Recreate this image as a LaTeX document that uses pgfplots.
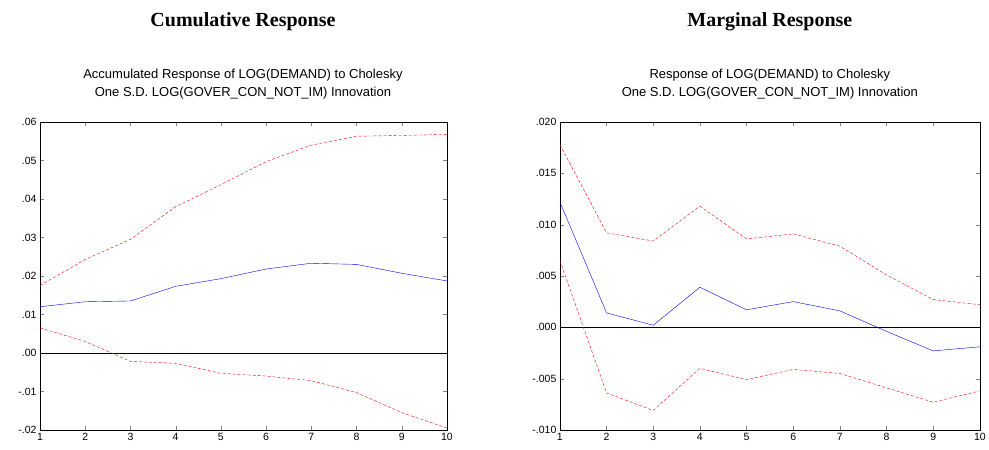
\documentclass[border=0pt]{standalone}
\usepackage{pgfplots}
\pgfplotsset{compat=1.18}
\usepackage{fontspec}
\setmainfont{Liberation Sans}
\newfontfamily\serifb{Liberation Serif}
\begin{document}
\begin{tikzpicture}
\path (0,-20pt) rectangle (989pt,430pt);
\pgfplotsset{every axis/.style={scale only axis, height=308pt, xmin=1, xmax=10, xtick={1,...,10},
 tick label style={font=\fontsize{10.5}{12}\selectfont}, /pgf/number format/assume math mode=true,
 yticklabel style={/pgf/number format/.cd, fixed, fixed zerofill, skip 0.},
 tick align=inside}}
\begin{axis}[name=a, width=407pt, at={(40pt,0)}, ymin=-0.02, ymax=0.06, ytick={-0.02,-0.01,...,0.06},
 yticklabel style={/pgf/number format/precision=2},
 scaled y ticks=false]
\addplot[black, thin] coordinates {(1,0) (10,0)};
\addplot[blue] coordinates {(1,.012)(2,.0133)(3,.0135)(4,.0173)(5,.0193)(6,.0218)(7,.0233)(8,.023)(9,.0207)(10,.0187)};
\addplot[red, densely dashed] coordinates {(1,.0175)(2,.0243)(3,.0295)(4,.038)(5,.0437)(6,.0497)(7,.054)(8,.0563)(9,.0565)(10,.0568)};
\addplot[red, densely dashed] coordinates {(1,.0065)(2,.003)(3,-.0022)(4,-.0027)(5,-.0053)(6,-.006)(7,-.0072)(8,-.0103)(9,-.0155)(10,-.0195)};
\end{axis}
\node[font=\serifb\bfseries\fontsize{20}{22}\selectfont] at (243pt,408pt) {Cumulative Response};
\node[font=\fontsize{13}{18}\selectfont, align=center] at (243pt,346pt) {Accumulated Response of LOG(DEMAND) to Cholesky\\One S.D. LOG(GOVER\_CON\_NOT\_IM) Innovation};
\begin{axis}[width=420pt, at={(560pt,0)}, ymin=-0.01, ymax=0.02, ytick={-0.01,-0.005,...,0.02},
 yticklabel style={/pgf/number format/precision=3},
 scaled y ticks=false]
\addplot[black, thin] coordinates {(1,0) (10,0)};
\addplot[blue] coordinates {(1,.0122)(2,.0014)(3,.0002)(4,.0039)(5,.0017)(6,.0025)(7,.0016)(8,-.0004)(9,-.0023)(10,-.0019)};
\addplot[red, densely dashed] coordinates {(1,.0178)(2,.0092)(3,.0084)(4,.0118)(5,.0086)(6,.0091)(7,.0079)(8,.0051)(9,.0027)(10,.0022)};
\addplot[red, densely dashed] coordinates {(1,.0065)(2,-.0064)(3,-.0081)(4,-.0040)(5,-.0051)(6,-.0041)(7,-.0045)(8,-.0059)(9,-.0073)(10,-.0062)};
\end{axis}
\node[font=\serifb\bfseries\fontsize{20}{22}\selectfont] at (770pt,408pt) {Marginal Response};
\node[font=\fontsize{13}{18}\selectfont, align=center] at (770pt,346pt) {Response of LOG(DEMAND) to Cholesky\\One S.D. LOG(GOVER\_CON\_NOT\_IM) Innovation};
\end{tikzpicture}
\end{document}
